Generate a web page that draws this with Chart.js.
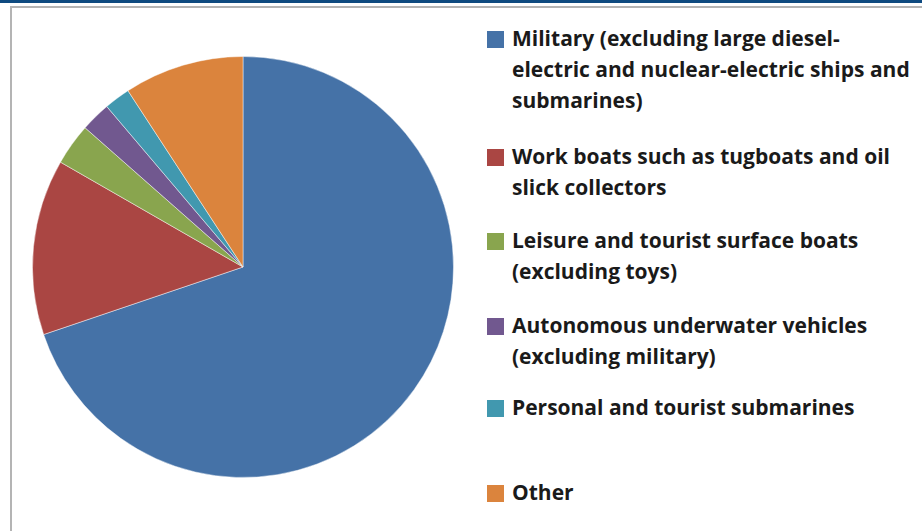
<!DOCTYPE html>
<html>
<head>
<meta charset="utf-8">
<script src="https://cdn.jsdelivr.net/npm/chart.js@4"></script>
<style>
  html, body { margin: 0; padding: 0; background: #fff; }
  body { width: 922px; height: 531px; position: relative; overflow: hidden; }
  #topBar { position: absolute; left: 0; top: 0; width: 922px; height: 3px; background: #0e4a80; }
  #frame { position: absolute; left: 10px; top: 6px; right: 0; bottom: 0;
           border-top: 2px solid #b4b4b4; border-left: 2px solid #b4b4b4; }
  #pieBox { position: absolute; left: 32px; top: 56px; width: 422px; height: 422px; }
  #legend { position: absolute; left: 487px; top: 0; }
  .item { position: absolute; left: 0; white-space: nowrap; }
  .swatch { position: absolute; left: 0; top: 8px; width: 17px; height: 17px; }
  .label { position: absolute; left: 25px; top: 0; font-family: "Open Sans", sans-serif; font-weight: bold;
           font-size: 21px; line-height: 31px; color: #1a1a1a; }
</style>
</head>
<body>
<div id="topBar"></div>
<div id="frame"></div>
<div id="pieBox"><canvas id="pie" width="422" height="422"></canvas></div>
<div id="legend"></div>
<script>
// Data (shares in %)
const categories = [
  'Military (excluding large diesel-electric and nuclear-electric ships and submarines)',
  'Work boats such as tugboats and oil slick collectors',
  'Leisure and tourist surface boats (excluding toys)',
  'Autonomous underwater vehicles (excluding military)',
  'Personal and tourist submarines',
  'Other'
];
// legend text as wrapped in the picture
const legendLines = [
  ['Military (excluding large diesel-', 'electric and nuclear-electric ships and', 'submarines)'],
  ['Work boats such as tugboats and oil', 'slick collectors'],
  ['Leisure and tourist surface boats', '(excluding toys)'],
  ['Autonomous underwater vehicles', '(excluding military)'],
  ['Personal and tourist submarines'],
  ['Other']
];
const shares = [69.8, 13.5, 3.2, 2.3, 2.0, 9.2];
const colors = ['#4572a7', '#aa4643', '#89a54e', '#71588f', '#4198af', '#db843d'];

// legend rows (top of each entry, px)
const legendTops = [23, 141, 225, 310, 392, 477];

// 1. Pie
new Chart(document.getElementById('pie').getContext('2d'), {
  type: 'pie',
  data: {
    labels: categories,
    datasets: [{
      data: shares,
      backgroundColor: colors,
      borderColor: 'rgba(255,255,255,0.45)',
      borderWidth: 1
    }]
  },
  options: {
    responsive: false,
    animation: false,
    layout: { padding: 0 },
    plugins: {
      legend: { display: false },
      tooltip: { enabled: false }
    }
  }
});

// 2. Legend (HTML, keeps the line wraps of the original)
const legend = document.getElementById('legend');
legendLines.forEach((lines, i) => {
  const item = document.createElement('div');
  item.className = 'item';
  item.style.top = legendTops[i] + 'px';
  const sw = document.createElement('div');
  sw.className = 'swatch';
  sw.style.background = colors[i];
  const lab = document.createElement('div');
  lab.className = 'label';
  lab.innerHTML = lines.join('<br>');
  item.appendChild(sw);
  item.appendChild(lab);
  legend.appendChild(item);
});
</script>
</body>
</html>
